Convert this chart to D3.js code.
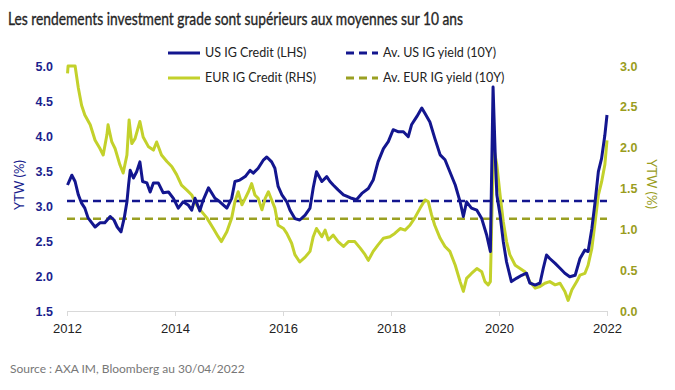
<!DOCTYPE html>
<html>
<head>
<meta charset="utf-8">
<script src="https://cdn.jsdelivr.net/npm/d3@7"></script>
<style>
  body { margin: 0; background: #fff; }
  svg { display: block; font-family: Lato, "Open Sans", sans-serif; }
</style>
</head>
<body>
<script>
// US IG Credit yield-to-worst (left axis)
var usYear = [2012.01, 2012.09, 2012.15, 2012.21, 2012.27, 2012.33, 2012.39, 2012.46, 2012.52, 2012.61,
  2012.70, 2012.80, 2012.87, 2012.93, 2013.00, 2013.06, 2013.11, 2013.14, 2013.17, 2013.23,
  2013.29, 2013.35, 2013.40, 2013.48, 2013.54, 2013.60, 2013.69, 2013.78, 2013.88, 2013.97,
  2014.06, 2014.15, 2014.25, 2014.31, 2014.37, 2014.46, 2014.52, 2014.62, 2014.74, 2014.83,
  2014.96, 2015.05, 2015.11, 2015.20, 2015.30, 2015.39, 2015.45, 2015.54, 2015.64, 2015.70,
  2015.79, 2015.85, 2015.91, 2015.98, 2016.07, 2016.13, 2016.22, 2016.31, 2016.41, 2016.50,
  2016.56, 2016.62, 2016.72, 2016.81, 2016.87, 2016.93, 2017.02, 2017.12, 2017.21, 2017.27,
  2017.36, 2017.46, 2017.58, 2017.67, 2017.76, 2017.86, 2017.95, 2018.04, 2018.14, 2018.23,
  2018.32, 2018.38, 2018.48, 2018.57, 2018.63, 2018.72, 2018.81, 2018.91, 2019.00, 2019.09,
  2019.19, 2019.28, 2019.34, 2019.40, 2019.49, 2019.59, 2019.68, 2019.77, 2019.84, 2019.89,
  2019.93, 2019.96, 2020.02, 2020.08, 2020.14, 2020.23, 2020.33, 2020.42, 2020.51, 2020.57,
  2020.67, 2020.76, 2020.82, 2020.88, 2020.94, 2021.04, 2021.13, 2021.22, 2021.31, 2021.41,
  2021.50, 2021.59, 2021.65, 2021.72, 2021.78, 2021.84, 2021.90, 2021.96, 2022.00];
var usYtw = [3.30, 3.44, 3.35, 3.16, 3.04, 2.97, 2.83, 2.76, 2.70, 2.76,
  2.76, 2.85, 2.80, 2.70, 2.63, 2.83, 3.06, 3.30, 3.51, 3.40,
  3.49, 3.63, 3.35, 3.33, 3.20, 3.33, 3.33, 3.19, 3.20, 3.11,
  2.97, 3.06, 3.01, 2.94, 3.11, 2.93, 3.08, 3.26, 3.11, 3.06,
  2.97, 3.11, 3.35, 3.37, 3.42, 3.51, 3.47, 3.54, 3.66, 3.70,
  3.63, 3.54, 3.28, 3.16, 3.06, 2.94, 2.82, 2.80, 2.87, 2.97,
  3.26, 3.49, 3.35, 3.42, 3.35, 3.30, 3.23, 3.16, 3.13, 3.11,
  3.09, 3.18, 3.25, 3.37, 3.63, 3.82, 3.92, 4.09, 4.06, 4.06,
  3.99, 4.16, 4.28, 4.40, 4.32, 4.20, 3.97, 3.73, 3.66, 3.49,
  3.30, 3.06, 2.85, 3.06, 2.97, 2.94, 2.82, 2.59, 2.35, 4.70,
  3.73, 3.16, 2.87, 2.49, 2.20, 1.92, 1.97, 2.01, 2.04, 1.90,
  1.87, 1.90, 2.11, 2.30, 2.25, 2.18, 2.11, 2.04, 1.99, 2.01,
  2.25, 2.37, 2.35, 2.68, 3.06, 3.49, 3.68, 4.01, 4.30];

// EUR IG Credit yield-to-worst (right axis)
var eurYear = [2012.01, 2012.02, 2012.15, 2012.21, 2012.27, 2012.33, 2012.43, 2012.52, 2012.61, 2012.67,
  2012.74, 2012.76, 2012.83, 2012.89, 2012.98, 2013.04, 2013.11, 2013.15, 2013.20, 2013.26,
  2013.35, 2013.41, 2013.51, 2013.60, 2013.66, 2013.75, 2013.85, 2013.94, 2014.03, 2014.12,
  2014.22, 2014.31, 2014.40, 2014.49, 2014.59, 2014.71, 2014.80, 2014.86, 2014.96, 2015.05,
  2015.11, 2015.17, 2015.24, 2015.30, 2015.36, 2015.42, 2015.48, 2015.54, 2015.61, 2015.67,
  2015.73, 2015.79, 2015.85, 2015.91, 2016.01, 2016.07, 2016.16, 2016.22, 2016.31, 2016.41,
  2016.50, 2016.56, 2016.62, 2016.72, 2016.78, 2016.84, 2016.93, 2017.02, 2017.12, 2017.21,
  2017.33, 2017.43, 2017.52, 2017.58, 2017.67, 2017.76, 2017.86, 2017.98, 2018.07, 2018.17,
  2018.26, 2018.35, 2018.44, 2018.54, 2018.63, 2018.69, 2018.75, 2018.81, 2018.91, 2019.00,
  2019.09, 2019.19, 2019.28, 2019.34, 2019.40, 2019.49, 2019.59, 2019.68, 2019.74, 2019.80,
  2019.84, 2019.88, 2019.91, 2019.96, 2020.02, 2020.08, 2020.14, 2020.20, 2020.30, 2020.39,
  2020.48, 2020.57, 2020.67, 2020.76, 2020.85, 2020.94, 2021.04, 2021.13, 2021.22, 2021.28,
  2021.35, 2021.44, 2021.50, 2021.59, 2021.65, 2021.72, 2021.78, 2021.84, 2021.90, 2021.96,
  2022.00];
var eurYtw = [2.91, 3.00, 3.00, 2.73, 2.52, 2.40, 2.28, 2.09, 1.99, 1.91,
  2.16, 2.28, 2.07, 1.99, 1.79, 1.69, 1.91, 2.34, 2.05, 2.11,
  2.32, 2.13, 2.01, 1.97, 2.07, 1.91, 1.83, 1.77, 1.67, 1.54,
  1.48, 1.42, 1.30, 1.22, 1.14, 1.01, 0.91, 0.85, 0.97, 1.14,
  1.34, 1.46, 1.30, 1.38, 1.46, 1.56, 1.42, 1.38, 1.24, 1.38,
  1.46, 1.36, 1.26, 1.05, 1.01, 0.95, 0.83, 0.69, 0.60, 0.66,
  0.73, 0.91, 1.01, 0.91, 0.99, 0.87, 0.93, 0.85, 0.79, 0.85,
  0.85, 0.77, 0.69, 0.62, 0.73, 0.81, 0.89, 0.91, 0.95, 1.01,
  0.99, 1.05, 1.14, 1.26, 1.36, 1.34, 1.18, 1.05, 0.89, 0.79,
  0.73, 0.56, 0.36, 0.24, 0.40, 0.46, 0.52, 0.48, 0.36, 0.32,
  0.36, 1.50, 1.97, 1.79, 1.42, 1.09, 0.85, 0.69, 0.56, 0.52,
  0.48, 0.36, 0.28, 0.30, 0.34, 0.36, 0.32, 0.34, 0.24, 0.13,
  0.26, 0.36, 0.44, 0.46, 0.56, 0.77, 1.09, 1.42, 1.58, 1.79,
  2.09];

// 10-year averages
var usAvg = 3.07;
var eurAvg = 1.13;

var yearTicks = [2012, 2014, 2016, 2018, 2020, 2022];
var leftTicks = [1.5, 2.0, 2.5, 3.0, 3.5, 4.0, 4.5, 5.0];
var rightTicks = [0.0, 0.5, 1.0, 1.5, 2.0, 2.5, 3.0];

var blue = "#13168f", lime = "#c3d12b", olive = "#9aa022";
var blueText = "#1b1f8e", oliveText = "#9a9d1d";

var width = 675, height = 390;
var margin = {top: 66, right: 68, bottom: 79, left: 67};

var svg = d3.select("body").append("svg")
    .attr("width", width)
    .attr("height", height);

var x = d3.scaleLinear().domain([2012, 2022]).range([margin.left, width - margin.right]);
var yL = d3.scaleLinear().domain([1.5, 5.0]).range([height - margin.bottom, margin.top]);
var yR = d3.scaleLinear().domain([0, 3.0]).range([height - margin.bottom, margin.top]);

// title
svg.append("text")
    .attr("x", 8).attr("y", 25)
    .attr("font-family", "'Liberation Sans Narrow', Lato, sans-serif")
    .attr("font-size", 17)
    .attr("fill", "#262626")
    .attr("stroke", "#262626").attr("stroke-width", 0.35)
    .attr("textLength", 455)
    .attr("lengthAdjust", "spacingAndGlyphs")
    .text("Les rendements investment grade sont supérieurs aux moyennes sur 10 ans");

// x axis
var xAxis = svg.append("g")
    .attr("transform", "translate(0," + yL(1.5) + ")")
    .call(d3.axisBottom(x).tickValues(yearTicks).tickFormat(d3.format("d")).tickSize(5).tickPadding(8));
xAxis.select(".domain").attr("stroke", "#d9d9d9");
xAxis.selectAll(".tick line").attr("stroke", "#d9d9d9");
xAxis.selectAll("text").attr("font-size", 13).attr("fill", "#222");

// left axis
var leftAxis = svg.append("g")
    .attr("transform", "translate(" + (margin.left - 14) + ",0)")
    .call(d3.axisLeft(yL).tickValues(leftTicks).tickFormat(d3.format(".1f")).tickSize(0).tickPadding(0));
leftAxis.select(".domain").remove();
leftAxis.selectAll("text").attr("font-size", 12.5).attr("font-weight", "bold").attr("fill", blueText);

// right axis
var rightAxis = svg.append("g")
    .attr("transform", "translate(" + 620 + ",0)")
    .call(d3.axisRight(yR).tickValues(rightTicks).tickFormat(d3.format(".1f")).tickSize(0).tickPadding(0));
rightAxis.select(".domain").remove();
rightAxis.selectAll("text").attr("font-size", 12.5).attr("font-weight", "bold").attr("fill", oliveText);

// axis titles
svg.append("text")
    .attr("transform", "translate(24,185) rotate(-90)")
    .attr("text-anchor", "middle")
    .attr("font-size", 13).attr("fill", blueText)
    .text("YTW (%)");
svg.append("text")
    .attr("transform", "translate(647,184) rotate(90)")
    .attr("text-anchor", "middle")
    .attr("font-size", 13).attr("fill", oliveText)
    .text("YTW (%)");

// average lines
svg.append("line")
    .attr("x1", x(2012)).attr("x2", x(2022))
    .attr("y1", yL(usAvg)).attr("y2", yL(usAvg))
    .attr("stroke", blue).attr("stroke-width", 2.5).attr("stroke-dasharray", "8,5");
svg.append("line")
    .attr("x1", x(2012)).attr("x2", x(2022))
    .attr("y1", yR(eurAvg)).attr("y2", yR(eurAvg))
    .attr("stroke", olive).attr("stroke-width", 2.5).attr("stroke-dasharray", "8,5");

// series
var eurLine = d3.line()
    .x(function(d, i) { return x(eurYear[i]); })
    .y(function(d) { return yR(d); });
var usLine = d3.line()
    .x(function(d, i) { return x(usYear[i]); })
    .y(function(d) { return yL(d); });

svg.append("path")
    .datum(eurYtw)
    .attr("d", eurLine)
    .attr("fill", "none").attr("stroke", lime).attr("stroke-width", 3)
    .attr("stroke-linejoin", "round");
svg.append("path")
    .datum(usYtw)
    .attr("d", usLine)
    .attr("fill", "none").attr("stroke", blue).attr("stroke-width", 3)
    .attr("stroke-linejoin", "round");

// legend
var legend = [
  {label: "US IG Credit (LHS)", color: blue, dash: null, x: 168, y: 53},
  {label: "Av. US IG yield (10Y)", color: blue, dash: "8,5", x: 346, y: 53},
  {label: "EUR IG Credit (RHS)", color: lime, dash: null, x: 168, y: 78},
  {label: "Av. EUR IG yield (10Y)", color: olive, dash: "8,5", x: 346, y: 78}
];
var lg = svg.append("g").selectAll("g").data(legend).enter().append("g")
    .attr("transform", function(d) { return "translate(" + d.x + "," + d.y + ")"; });
lg.append("line")
    .attr("x1", 0).attr("x2", 32)
    .attr("stroke", function(d) { return d.color; })
    .attr("stroke-width", 3)
    .attr("stroke-dasharray", function(d) { return d.dash; });
lg.append("text")
    .attr("x", 37).attr("dy", "0.35em")
    .attr("font-size", 12.5).attr("fill", "#222")
    .text(function(d) { return d.label; });

// source
svg.append("text")
    .attr("x", 10).attr("y", 373)
    .attr("font-size", 12)
    .attr("fill", "#777")
    .text("Source : AXA IM, Bloomberg au 30/04/2022");
</script>
</body>
</html>
